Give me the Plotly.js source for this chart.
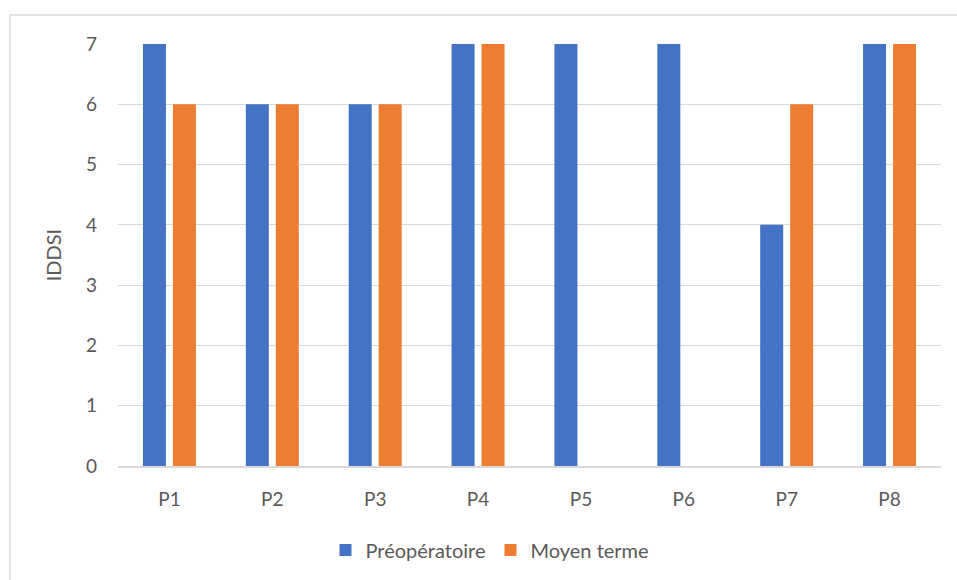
<!DOCTYPE html>
<html><head><meta charset="utf-8">
<script src="https://cdn.plot.ly/plotly-3.0.1.min.js"></script>
<style>html,body{margin:0;padding:0;background:#fff}#chart{width:957px;height:580px}</style>
</head><body><div id="chart"></div>
<script>
const categories = ["P1","P2","P3","P4","P5","P6","P7","P8"];
const preop = [7,6,6,7,7,7,4,7];
const moyen = [6,6,6,7,0,0,6,7];
const seriesNames = ["Préopératoire","Moyen terme"];
const yTicks = [0,1,2,3,4,5,6,7];

const fam = "Lato, 'Open Sans', sans-serif";
const tickFont = {family:fam, size:19, color:"#595959"};
const bigFont = {family:fam, size:20, color:"#595959"};
const traces = [
  {type:"bar", name:seriesNames[0], x:categories, y:preop, marker:{color:"#4472C4"}},
  {type:"bar", name:seriesNames[1], x:categories, y:moyen, marker:{color:"#ED7D31"}}
];
const layout = {
  width:957, height:580,
  margin:{l:118, r:16, t:44, b:113},
  paper_bgcolor:"#fff", plot_bgcolor:"#fff",
  font:tickFont,
  barmode:"group", bargap:0.417, bargroupgap:0.233,
  xaxis:{type:"category", showgrid:false, showline:true, linecolor:"#d9d9d9", linewidth:1.5,
         ticks:"", ticklabelstandoff:16, tickfont:tickFont, fixedrange:true},
  yaxis:{range:[0,7], tickvals:yTicks, showgrid:true, gridcolor:"#d9d9d9", gridwidth:1,
         zeroline:false, showline:false, ticks:"", ticklabelstandoff:20, tickfont:tickFont,
         title:{text:"IDDSI", font:bigFont, standoff:18}},
  showlegend:true,
  legend:{orientation:"h", x:0.452, xanchor:"center", y:-0.196, yanchor:"middle", font:bigFont,
          itemwidth:30, traceorder:"normal"},
  shapes:[{type:"rect", xref:"paper", yref:"paper",
           x0:(10-118)/823, x1:1.1, y0:-0.5, y1:1+(44-15)/423,
           line:{color:"#d9d9d9", width:1.5}, fillcolor:"rgba(0,0,0,0)", layer:"below"}]
};
Plotly.newPlot("chart", traces, layout, {displayModeBar:false, staticPlot:true});
</script></body></html>
